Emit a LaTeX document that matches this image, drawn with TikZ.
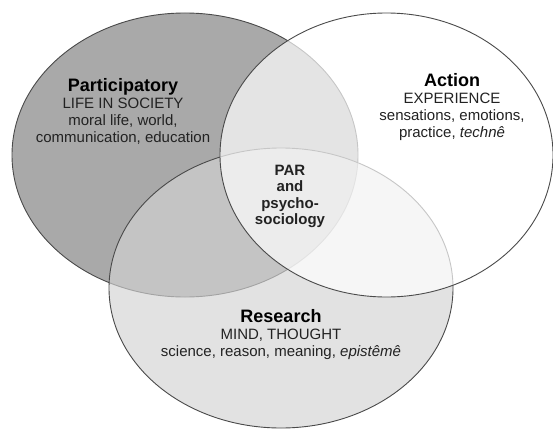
\documentclass[tikz,border=0pt]{standalone}
\usepackage{fontspec}
\setmainfont{Liberation Sans}
\begin{document}
\begin{tikzpicture}[x=1pt,y=-1pt,
  ring/.style={draw=ringline,line width=0.9pt},
  label/.style={align=center,text=labeltext,font=\fontsize{15}{17}\selectfont},
  headline/.style={font=\fontsize{18}{17}\selectfont\bfseries,text=black}]
\definecolor{ringline}{HTML}{4A4A4A}
\definecolor{labeltext}{HTML}{222222}
\definecolor{partfill}{HTML}{A9A9A9}
\definecolor{resfill}{HTML}{D3D3D3}
\useasboundingbox (0,0) rectangle (553,428);
\fill[white] (0,0) rectangle (553,428);
% the three circles of the diagram, drawn bottom to top
\draw[ring,fill=partfill] (185,155) ellipse [x radius=173,y radius=142];
\draw[ring,fill=resfill,fill opacity=0.65] (281,288) ellipse [x radius=172,y radius=140];
\draw[ring,fill=white,fill opacity=0.69] (386.5,155) ellipse [x radius=166.5,y radius=142];
% labels
\node[label] (part) at (123,111.5) {{\fontsize{18}{17}\selectfont\bfseries\color{black}Participatory}\\LIFE IN SOCIETY\\moral life, world,\\communication, education};
\node[label] (act) at (452,107.5) {{\fontsize{18}{17}\selectfont\bfseries\color{black}Action}\\EXPERIENCE\\sensations, emotions,\\practice, \textit{technê}};
\node[label,font=\fontsize{15}{16.5}\selectfont\bfseries] (par) at (290,196.5) {PAR\\and\\psycho-\\sociology};
\node[label] (res) at (281,335) {{\fontsize{18}{17}\selectfont\bfseries\color{black}Research}\\MIND, THOUGHT\\science, reason, meaning, \textit{epistêmê}};
\end{tikzpicture}
\end{document}
